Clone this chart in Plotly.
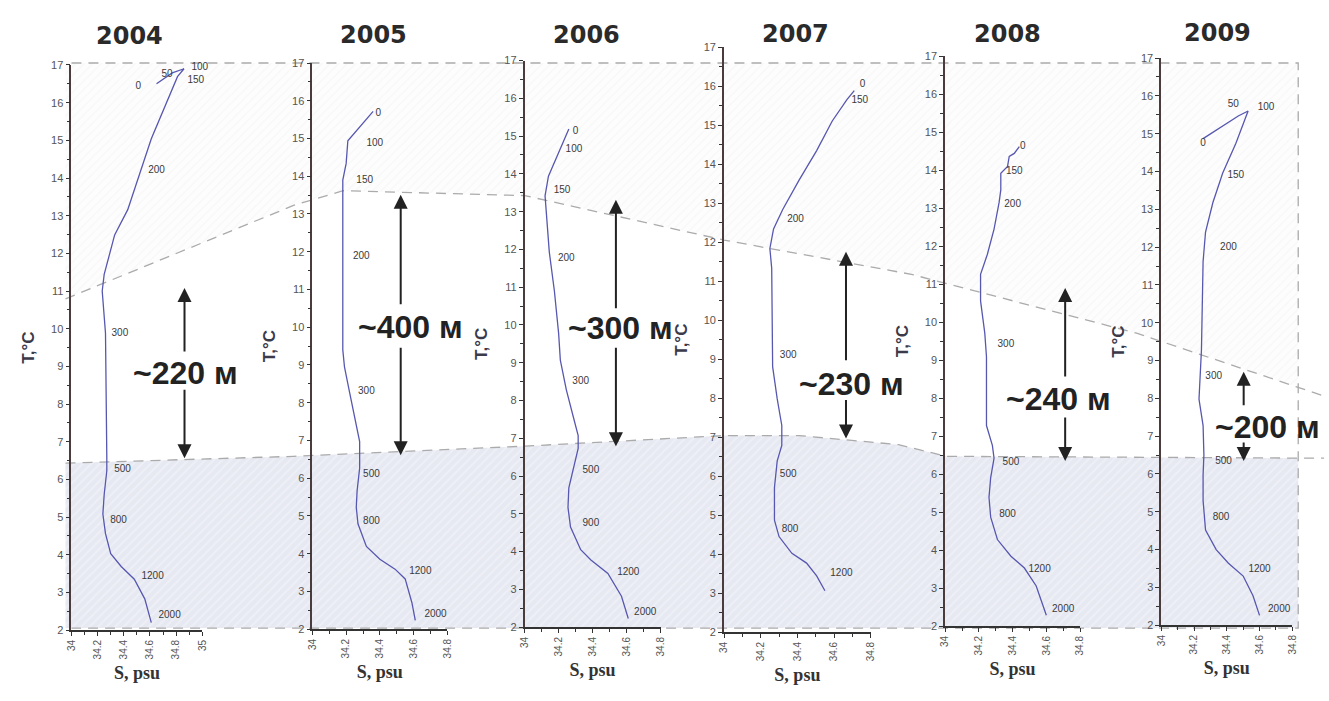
import numpy as np
import plotly.graph_objects as go

W, H = 1329, 701

# ---------------- data ----------------
YEARS = ["2004", "2005", "2006", "2007", "2008", "2009"]

S_2004 = [34.65, 34.77, 34.86, 34.81, 34.61, 34.53, 34.43, 34.33, 34.28, 34.25, 34.235, 34.25, 34.26, 34.27,
          34.27, 34.25, 34.24, 34.26, 34.30, 34.38, 34.48, 34.56, 34.61]
T_2004 = [16.50, 16.79, 16.90, 16.69, 15.04, 14.20, 13.16, 12.49, 11.86, 11.44, 11.00, 10.43, 9.88, 6.60,
          6.23, 5.60, 5.08, 4.56, 4.03, 3.69, 3.35, 2.83, 2.20]

S_2005 = [34.36, 34.21, 34.20, 34.18, 34.18, 34.19, 34.22, 34.25, 34.28, 34.28, 34.265, 34.26, 34.27, 34.32,
          34.40, 34.49, 34.55, 34.59, 34.61]
T_2005 = [15.72, 14.94, 14.34, 13.90, 9.40, 8.95, 8.28, 7.65, 6.97, 6.27, 5.67, 5.23, 4.79, 4.19,
          3.85, 3.59, 3.33, 2.70, 2.23]

S_2006 = [34.26, 34.205, 34.14, 34.12, 34.13, 34.145, 34.175, 34.20, 34.21, 34.245, 34.285, 34.315, 34.315,
          34.29, 34.26, 34.255, 34.27, 34.33, 34.39, 34.49, 34.57, 34.61]
T_2006 = [15.19, 14.62, 13.94, 13.42, 12.80, 11.93, 10.90, 9.77, 9.07, 8.29, 7.59, 7.07, 6.73,
          6.28, 5.69, 5.17, 4.65, 4.05, 3.78, 3.42, 2.82, 2.23]

S_2007 = [34.71, 34.67, 34.59, 34.505, 34.41, 34.32, 34.27, 34.25, 34.26, 34.265, 34.265, 34.29, 34.315,
          34.315, 34.29, 34.275, 34.275, 34.30, 34.37, 34.45, 34.505, 34.55]
T_2007 = [15.89, 15.66, 15.11, 14.35, 13.60, 12.84, 12.34, 11.84, 11.33, 9.24, 8.81, 7.98, 7.30,
          6.79, 6.39, 5.71, 4.87, 4.45, 4.02, 3.77, 3.44, 3.06]

S_2008 = [34.44, 34.41, 34.38, 34.37, 34.33, 34.33, 34.32, 34.29, 34.25, 34.21, 34.21, 34.235, 34.245,
          34.245, 34.28, 34.29, 34.27, 34.26, 34.27, 34.31, 34.39, 34.47, 34.54, 34.60]
T_2008 = [14.62, 14.44, 14.36, 14.10, 13.92, 13.48, 13.15, 12.45, 11.78, 11.26, 10.56, 9.71, 9.09,
          7.28, 6.76, 6.42, 5.91, 5.39, 4.87, 4.28, 3.84, 3.53, 3.06, 2.29]

S_2009 = [34.255, 34.47, 34.53, 34.455, 34.375, 34.315, 34.27, 34.255, 34.245, 34.23, 34.255, 34.26,
          34.255, 34.255, 34.27, 34.335, 34.41, 34.50, 34.56, 34.60]
T_2009 = [14.87, 15.47, 15.60, 14.74, 13.96, 13.18, 12.40, 11.62, 9.28, 7.98, 7.28, 6.50,
          5.98, 5.30, 4.52, 4.00, 3.64, 3.30, 2.78, 2.26]

# depth labels (text, S, T)
LBL_2004 = (["0", "50", "100", "150", "200", "300", "500", "800", "1200", "2000"],
            [34.51, 34.73, 34.98, 34.95, 34.65, 34.37, 34.39, 34.36, 34.62, 34.75],
            [16.43, 16.74, 16.92, 16.60, 14.20, 9.88, 6.25, 4.90, 3.43, 2.39])
LBL_2005 = (["0", "100", "150", "200", "300", "500", "800", "1200", "2000"],
            [34.39, 34.37, 34.31, 34.29, 34.32, 34.35, 34.35, 34.64, 34.73],
            [15.65, 14.86, 13.88, 11.87, 8.30, 6.09, 4.84, 3.54, 2.39])
LBL_2006 = (["0", "100", "150", "200", "300", "500", "900", "1200", "2000"],
            [34.30, 34.29, 34.22, 34.245, 34.33, 34.39, 34.39, 34.61, 34.71],
            [15.11, 14.64, 13.55, 11.75, 8.50, 6.15, 4.75, 3.45, 2.38])
LBL_2007 = (["0", "150", "200", "300", "500", "800", "1200"],
            [34.755, 34.74, 34.39, 34.35, 34.35, 34.36, 34.64],
            [16.04, 15.64, 12.59, 9.10, 6.03, 4.62, 3.49])
LBL_2008 = (["0", "150", "200", "300", "500", "800", "1200", "2000"],
            [34.46, 34.41, 34.40, 34.36, 34.39, 34.37, 34.56, 34.70],
            [14.62, 13.97, 13.10, 9.42, 6.32, 4.95, 3.50, 2.44])
LBL_2009 = (["0", "50", "100", "150", "200", "300", "500", "800", "1200", "2000"],
            [34.255, 34.44, 34.64, 34.455, 34.41, 34.32, 34.38, 34.365, 34.60, 34.72],
            [14.74, 15.78, 15.70, 13.90, 12.00, 8.58, 6.34, 4.86, 3.48, 2.42])

PROFILES = [(S_2004, T_2004, LBL_2004), (S_2005, T_2005, LBL_2005), (S_2006, T_2006, LBL_2006),
            (S_2007, T_2007, LBL_2007), (S_2008, T_2008, LBL_2008), (S_2009, T_2009, LBL_2009)]

# thermocline boundaries (temperature, on the common reference scale)
UPPER_T = [10.74, 13.22, 13.61, 13.48, 12.30, 11.39, 9.83, 8.16]
LOWER_T = [6.38, 6.56, 6.83, 7.11, 7.11, 6.87, 6.56, 6.51]
THICKNESS = ["~220 м", "~400 м", "~300 м", "~230 м", "~240 м", "~200 м"]

# ---------------- layout constants (pixels) ----------------
# panel boxes: left, right, top(T=17), bottom(T=2), S max
PANEL_BOX = [(66, 198, 60, 635, 35.0), (309, 445, 58, 634, 34.8), (523, 660, 55.5, 632, 34.8),
             (724, 872, 42, 637, 34.8), (947, 1083, 51, 631, 34.8), (1165, 1297, 53, 630, 34.8)]
UPPER_XPX = [60, 290, 340, 523, 724, 913, 1140, 1329]
LOWER_XPX = [60, 290, 523, 724, 800, 900, 948, 1329]
SHADE_X0, SHADE_X1 = 60, 1303
YEAR_POS = [(125, 31), (371, 30), (585, 30), (796, 28), (1010, 28), (1222, 27)]
# text centre, up arrow (x, tail, tip), down arrow (x, tail, tip)
ARROWS = [((181, 373), (180, 352, 287), (180, 390, 460)),
          ((408, 327), (398, 303, 192), (398, 348, 457)),
          ((620, 328), (615, 307, 197), (615, 348, 448)),
          ((853, 385), (847, 360, 250), (847, 400, 440)),
          ((1061, 400), (1068, 377, 287), (1068, 418, 463)),
          ((1272, 428), (1248, 407, 372), (1248, 443, 463))]

REF_TOP, REF_PX_PER_DEG = 58, 38.33  # background axis: T=17 at y=58 px


def t_ref(py):
    return 17 - (py - REF_TOP) / REF_PX_PER_DEG


fig = go.Figure()

GRID = "#ababab"

# ---- background (shared) axis: x, y ----
lower_at_end = float(np.interp(SHADE_X1, LOWER_XPX, LOWER_T))
upper_at_end = float(np.interp(SHADE_X1, UPPER_XPX, UPPER_T))
lx = [x for x in LOWER_XPX if x <= SHADE_X1] + [SHADE_X1]
lt = [t for x, t in zip(LOWER_XPX, LOWER_T) if x <= SHADE_X1] + [lower_at_end]
ux = [x for x in UPPER_XPX if x <= SHADE_X1] + [SHADE_X1]
ut = [t for x, t in zip(UPPER_XPX, UPPER_T) if x <= SHADE_X1] + [upper_at_end]

# faint upper region
fig.add_trace(go.Scatter(x=ux + [SHADE_X1, SHADE_X0], y=ut + [17, 17], fill="toself", mode="none",
                         fillcolor="#fdfdfd",
                         fillpattern=dict(shape="/", bgcolor="#fdfdfd", fgcolor="#f2f2f2", size=6, solidity=0.2),
                         hoverinfo="skip", showlegend=False, xaxis="x", yaxis="y"))
# hatched lower (deep) region
fig.add_trace(go.Scatter(x=lx + [SHADE_X1, SHADE_X0], y=lt + [2, 2], fill="toself", mode="none",
                         fillcolor="#e8eaf2",
                         fillpattern=dict(shape="/", bgcolor="#e7e9f2", fgcolor="#f8f8fb", size=6, solidity=0.3),
                         hoverinfo="skip", showlegend=False, xaxis="x", yaxis="y"))
dash = dict(color=GRID, width=1.3, dash="10px,7px")
fig.add_trace(go.Scatter(x=UPPER_XPX, y=UPPER_T, mode="lines", line=dash, hoverinfo="skip",
                         showlegend=False, xaxis="x", yaxis="y"))
fig.add_trace(go.Scatter(x=LOWER_XPX, y=LOWER_T, mode="lines", line=dash, hoverinfo="skip",
                         showlegend=False, xaxis="x", yaxis="y"))
fig.add_trace(go.Scatter(x=[SHADE_X0 + 6, SHADE_X1, SHADE_X1, SHADE_X0 + 6], y=[17, 17, 2, 2], mode="lines",
                         line=dash, hoverinfo="skip", showlegend=False, xaxis="x", yaxis="y"))

layout = dict(
    width=W, height=H, margin=dict(l=0, r=0, t=0, b=0, pad=0),
    paper_bgcolor="white", plot_bgcolor="rgba(0,0,0,0)", showlegend=False,
    xaxis=dict(domain=[0, 1], range=[0, W], visible=False, fixedrange=True),
    yaxis=dict(domain=[0, 1], range=[t_ref(H), t_ref(0)], visible=False, fixedrange=True),
)

AX_COL = "#4a3c3c"
TICK_FONT = dict(family="Liberation Sans, Arial, sans-serif", size=11, color="#555")

for i, ((S, T, lbl), (x0, x1, yt, yb, smax)) in enumerate(zip(PROFILES, PANEL_BOX)):
    k = i + 2
    xa, ya = f"x{k}", f"y{k}"
    fig.add_trace(go.Scatter(x=S, y=T, mode="lines", line=dict(color="#5757b0", width=1.3),
                             hoverinfo="skip", showlegend=False, xaxis=xa, yaxis=ya))
    fig.add_trace(go.Scatter(x=lbl[1], y=lbl[2], text=lbl[0], mode="text", textposition="middle center",
                             textfont=dict(family="Liberation Sans, Arial, sans-serif", size=10, color="#3a3a3a"),
                             cliponaxis=False, hoverinfo="skip", showlegend=False, xaxis=xa, yaxis=ya))
    layout[f"xaxis{k}"] = dict(
        domain=[x0 / W, x1 / W], range=[34, smax], anchor=ya, tick0=34, dtick=0.2, tickangle=-90,
        showline=True, linecolor="#333", linewidth=1.6, ticks="outside", ticklen=4, tickcolor="#333",
        minor=dict(dtick=0.1, ticks="outside", ticklen=3, tickcolor="#333"),
        showgrid=False, zeroline=False, tickfont=dict(TICK_FONT, size=10), fixedrange=True,
        title=dict(text="S, psu", standoff=8,
                   font=dict(family="Liberation Serif, Times New Roman, serif", size=18, color="#333",
                             weight="bold")))
    layout[f"yaxis{k}"] = dict(
        domain=[1 - yb / H, 1 - yt / H], range=[2, 17], anchor=xa, tick0=2, dtick=1,
        showline=True, linecolor=AX_COL, linewidth=1.8, ticks="outside", ticklen=4, tickcolor="#333",
        minor=dict(dtick=0.5, ticks="outside", ticklen=3, tickcolor="#333"),
        showgrid=False, zeroline=False, tickfont=TICK_FONT, fixedrange=True,
        title=dict(text="T,°C", standoff=12,
                   font=dict(family="Liberation Sans, Arial, sans-serif", size=17, color="#3a3a4a",
                             weight="bold")))

annotations = []
for yr, (cx, cy) in zip(YEARS, YEAR_POS):
    annotations.append(dict(x=cx / W, y=1 - cy / H, xref="paper", yref="paper", text=f"<b>{yr}</b>",
                            showarrow=False, xanchor="center", yanchor="middle",
                            font=dict(family="DejaVu Sans, sans-serif", size=24, color="#2a2a2a")))
for txt, ((tx, ty), up, dn) in zip(THICKNESS, ARROWS):
    annotations.append(dict(x=tx / W, y=1 - ty / H, xref="paper", yref="paper", text=f"<b>{txt}</b>",
                            showarrow=False, xanchor="center", yanchor="middle",
                            font=dict(family="Liberation Sans, Arial, sans-serif", size=32, color="#222")))
    for ax_x, tail, tip in (up, dn):
        annotations.append(dict(x=ax_x / W, y=1 - tip / H, xref="paper", yref="paper", text="",
                                showarrow=True, ax=0, ay=tail - tip, axref="pixel", ayref="pixel",
                                arrowhead=2, arrowsize=1.4, arrowwidth=2, arrowcolor="#222"))
layout["annotations"] = annotations

fig.update_layout(**layout)
fig.write_html("out.html")
